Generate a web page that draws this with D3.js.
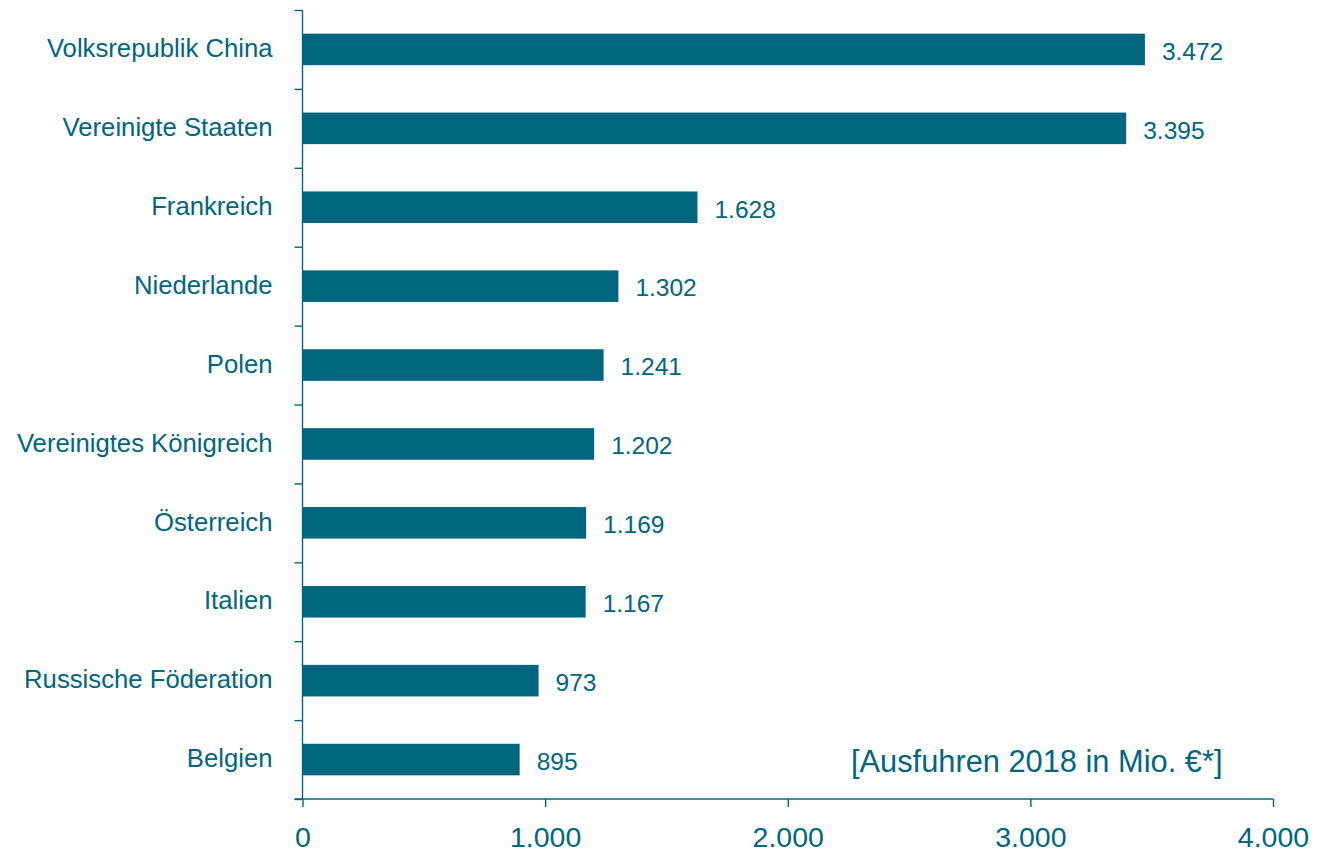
<!DOCTYPE html>
<html>
<head>
<meta charset="utf-8">
<script src="https://cdn.jsdelivr.net/npm/d3@7"></script>
<style>
  html, body { margin: 0; padding: 0; background: #fff; }
  svg { display: block; font-family: "Liberation Sans", Arial, sans-serif; }
</style>
</head>
<body>
<div id="chart"></div>
<script>
// Ausfuhren 2018 in Mio. Euro
const countries = [
    "Volksrepublik China", "Vereinigte Staaten", "Frankreich", "Niederlande", "Polen",
    "Vereinigtes Königreich", "Österreich", "Italien", "Russische Föderation", "Belgien"
];
const exports2018 = [3472, 3395, 1628, 1302, 1241, 1202, 1169, 1167, 973, 895];
const xTicks = [0, 1000, 2000, 3000, 4000];
const note = "[Ausfuhren 2018 in Mio. €*]";

const width = 1317, height = 852;
const margin = { top: 10, right: 44, bottom: 53, left: 302.5 };
const teal = "#006680";

const data = countries.map((c, i) => ({ name: c, value: exports2018[i] }));

const svg = d3.select("#chart").append("svg")
    .attr("width", width)
    .attr("height", height);

const x = d3.scaleLinear()
    .domain([0, 4000])
    .range([margin.left, width - margin.right]);

const y = d3.scaleBand()
    .domain(countries)
    .range([margin.top, height - margin.bottom])
    .paddingInner(0.6)
    .paddingOuter(0.3);

// tick positions sit on the band boundaries
const yIdx = d3.scaleLinear()
    .domain([0, countries.length])
    .range([margin.top, height - margin.bottom]);

const fmt = d3.formatLocale({ decimal: ",", thousands: ".", grouping: [3], currency: ["", "€"] }).format(",d");

// bars
svg.selectAll("rect.bar")
    .data(data)
    .enter().append("rect")
    .attr("class", "bar")
    .attr("x", x(0))
    .attr("y", d => y(d.name))
    .attr("width", d => x(d.value) - x(0))
    .attr("height", y.bandwidth())
    .attr("fill", teal);

// value labels
svg.selectAll("text.val")
    .data(data)
    .enter().append("text")
    .attr("class", "val")
    .attr("x", d => x(d.value) + 17)
    .attr("y", d => y(d.name) + y.bandwidth() / 2)
    .attr("dy", "0.42em")
    .attr("fill", teal)
    .style("font-size", "24.5px")
    .text(d => fmt(d.value));

// y axis (ticks between categories, no labels)
const yAxis = svg.append("g")
    .attr("transform", `translate(${x(0)},0)`)
    .call(d3.axisLeft(yIdx).ticks(countries.length).tickSize(8).tickFormat(""));
yAxis.select(".domain").attr("stroke", teal).attr("stroke-width", 1.4).attr("d", `M0,${yIdx(0)}V${yIdx(countries.length)}`);
yAxis.selectAll(".tick line").attr("stroke", teal).attr("stroke-width", 1.4);

// category labels
svg.selectAll("text.cat")
    .data(data)
    .enter().append("text")
    .attr("class", "cat")
    .attr("x", x(0) - 30)
    .attr("y", d => y(d.name) + y.bandwidth() / 2)
    .attr("dy", "0.3em")
    .attr("text-anchor", "end")
    .attr("fill", teal)
    .style("font-size", "25.7px")
    .text(d => d.name);

// x axis
const xAxis = svg.append("g")
    .attr("transform", `translate(0,${height - margin.bottom})`)
    .call(d3.axisBottom(x).tickValues(xTicks).tickSize(8).tickPadding(20).tickFormat(fmt));
xAxis.select(".domain").attr("stroke", teal).attr("stroke-width", 1.4)
    .attr("d", `M${x(0) - 8},0H${x(4000)}`);
xAxis.selectAll(".tick text")
    .attr("fill", teal)
    .style("font-size", "28.5px")
    .style("font-family", "'Liberation Sans', Arial, sans-serif");
xAxis.selectAll(".tick line").attr("stroke", teal).attr("stroke-width", 1.4);

// unit note
svg.append("text")
    .attr("x", x(3800) - 2)
    .attr("y", y("Belgien") + y.bandwidth() / 2)
    .attr("dy", "0.4em")
    .attr("text-anchor", "end")
    .attr("fill", teal)
    .style("font-size", "30.8px")
    .text(note);
</script>
</body>
</html>
